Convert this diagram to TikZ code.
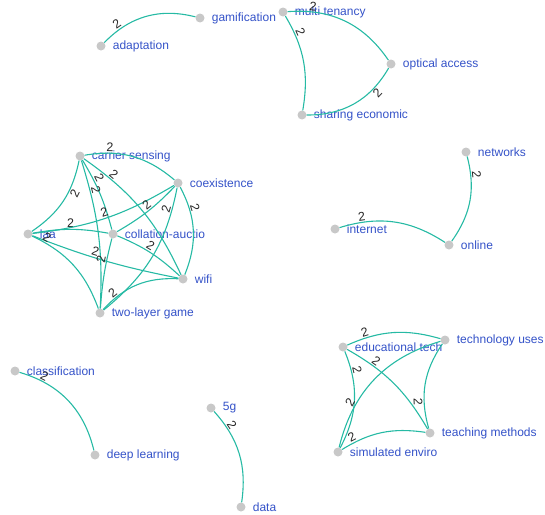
\documentclass[tikz,border=0pt]{standalone}
\usepackage{fontspec}
\setmainfont{Liberation Sans}
\usetikzlibrary{positioning}
\definecolor{edgeteal}{RGB}{38,186,164}
\definecolor{termblue}{RGB}{52,82,200}
\definecolor{dotgray}{RGB}{200,200,200}

\begin{document}
\begin{tikzpicture}[x=1pt, y=-1pt, label distance=7pt,
    term/.style={circle, fill=dotgray, inner sep=0pt, minimum size=9pt},
    tag/.style={text=termblue, font=\fontsize{12}{14}\selectfont, inner sep=0pt},
    link/.style={draw=edgeteal, line width=1.1pt},
    wt/.style={font=\fontsize{12.5}{13}\selectfont, text=black!85, sloped, above, inner sep=1pt}]
    \useasboundingbox (0,0) rectangle (545,514);

    % Nodes for the top cluster
    \node[term, label={[tag]right:adaptation}] (adapt) at (101,46) {};
    \node[term, label={[tag]right:gamification}] (gamif) at (200,18) {};
    \node[term, label={[tag]right:multi tenancy}] (multi) at (283,12) {};
    \node[term, label={[tag]right:optical access}] (optic) at (391,64) {};
    \node[term, label={[tag]right:sharing economic}] (share) at (302,115) {};

    % Nodes for the wifi cluster
    \node[term, label={[tag]right:carrier sensing}] (carrier) at (80,156) {};
    \node[term, label={[tag]right:coexistence}] (coexist) at (178,183) {};
    \node[term, label={[tag]right:laa}] (laa) at (28,234) {};
    \node[term, label={[tag]right:collation-auctio}] (collat) at (113,234) {};
    \node[term, label={[tag]right:wifi}] (wifi) at (183,279) {};
    \node[term, label={[tag]right:two-layer game}] (twolayer) at (100,313) {};

    % Nodes for the internet cluster
    \node[term, label={[tag]right:networks}] (networks) at (466,152) {};
    \node[term, label={[tag]right:internet}] (internet) at (335,229) {};
    \node[term, label={[tag]right:online}] (online) at (449,245) {};

    % Nodes for the education cluster
    \node[term, label={[tag]right:educational tech}] (edutech) at (343,347) {};
    \node[term, label={[tag]right:technology uses}] (techuse) at (445,340) {};
    \node[term, label={[tag]right:teaching methods}] (teach) at (430,433) {};
    \node[term, label={[tag]right:simulated enviro}] (simul) at (338,452) {};

    % Nodes for the two pairs
    \node[term, label={[tag]right:classification}] (classif) at (15,371) {};
    \node[term, label={[tag]right:deep learning}] (deepl) at (95,455) {};
    \node[term, label={[tag]right:5g}] (fiveg) at (211,408) {};
    \node[term, label={[tag]right:data}] (data) at (241,507) {};

    % Links for the top cluster
    \draw[link] (adapt) to[bend left=30] node[wt, pos=.2] {2} (gamif);
    \draw[link] (multi) to[bend left=30] node[wt, pos=.2] {2} (optic);
    \draw[link] (multi) to[bend left=20] node[wt, pos=.2] {2} (share);
    \draw[link] (optic) to[bend left=30] node[wt, below, pos=.25] {2} (share);

    % Links for the wifi cluster
    \draw[link] (carrier) to[bend left=25] node[wt, pos=.25] {2} (coexist);
    \draw[link] (carrier) to[bend left=22] node[wt, below, pos=.35] {2} (laa);
    \draw[link] (carrier) to[bend left=8] node[wt, pos=.3] {2} (collat);
    \draw[link] (carrier) to[bend left=10] node[wt, pos=.2] {2} (twolayer);
    \draw[link] (carrier) to[bend left=15] node[wt, pos=.2] {2} (wifi);
    \draw[link] (laa) to[bend left=10] node[wt, pos=.5] {2} (collat);
    \draw[link] (laa) to[bend right=12] node[wt, pos=.5] {2} (coexist);
    \draw[link] (laa) to[bend right=5] node[wt, pos=.42] {2} (wifi);
    \draw[link] (laa) to[bend left=22] node[wt, pos=.12] {2} (twolayer);
    \draw[link] (collat) to[bend right=8] node[wt, pos=.55] {2} (coexist);
    \draw[link] (collat) to[bend left=10] node[wt, pos=.45] {2} (wifi);
    \draw[link] (collat) to[bend right=5] node[wt, pos=.3] {2} (twolayer);
    \draw[link] (coexist) to[bend left=20] node[wt, pos=.15] {2} (twolayer);
    \draw[link] (coexist) to[bend left=25] node[wt, pos=.25] {2} (wifi);
    \draw[link] (wifi) to[bend right=25] node[wt, pos=.8] {2} (twolayer);

    % Links for the internet cluster
    \draw[link] (internet) to[bend left=25] node[wt, pos=.2] {2} (online);
    \draw[link] (networks) to[bend left=25] node[wt, pos=.2] {2} (online);

    % Links for the education cluster
    \draw[link] (edutech) to[bend left=20] node[wt, pos=.2] {2} (techuse);
    \draw[link] (edutech) to[bend left=15] node[wt, pos=.25] {2} (teach);
    \draw[link] (edutech) to[bend left=25] node[wt, pos=.2] {2} (simul);
    \draw[link] (simul) to[bend left=30] node[wt, pos=.28] {2} (techuse);
    \draw[link] (teach) to[bend left=25] node[wt, below, pos=.3] {2} (techuse);
    \draw[link] (simul) to[bend left=20] node[wt, pos=.15] {2} (teach);

    % Links for the two pairs
    \draw[link] (classif) to[bend left=30] node[wt, pos=.2] {2} (deepl);
    \draw[link] (fiveg) to[bend left=25] node[wt, pos=.2] {2} (data);
\end{tikzpicture}
\end{document}
